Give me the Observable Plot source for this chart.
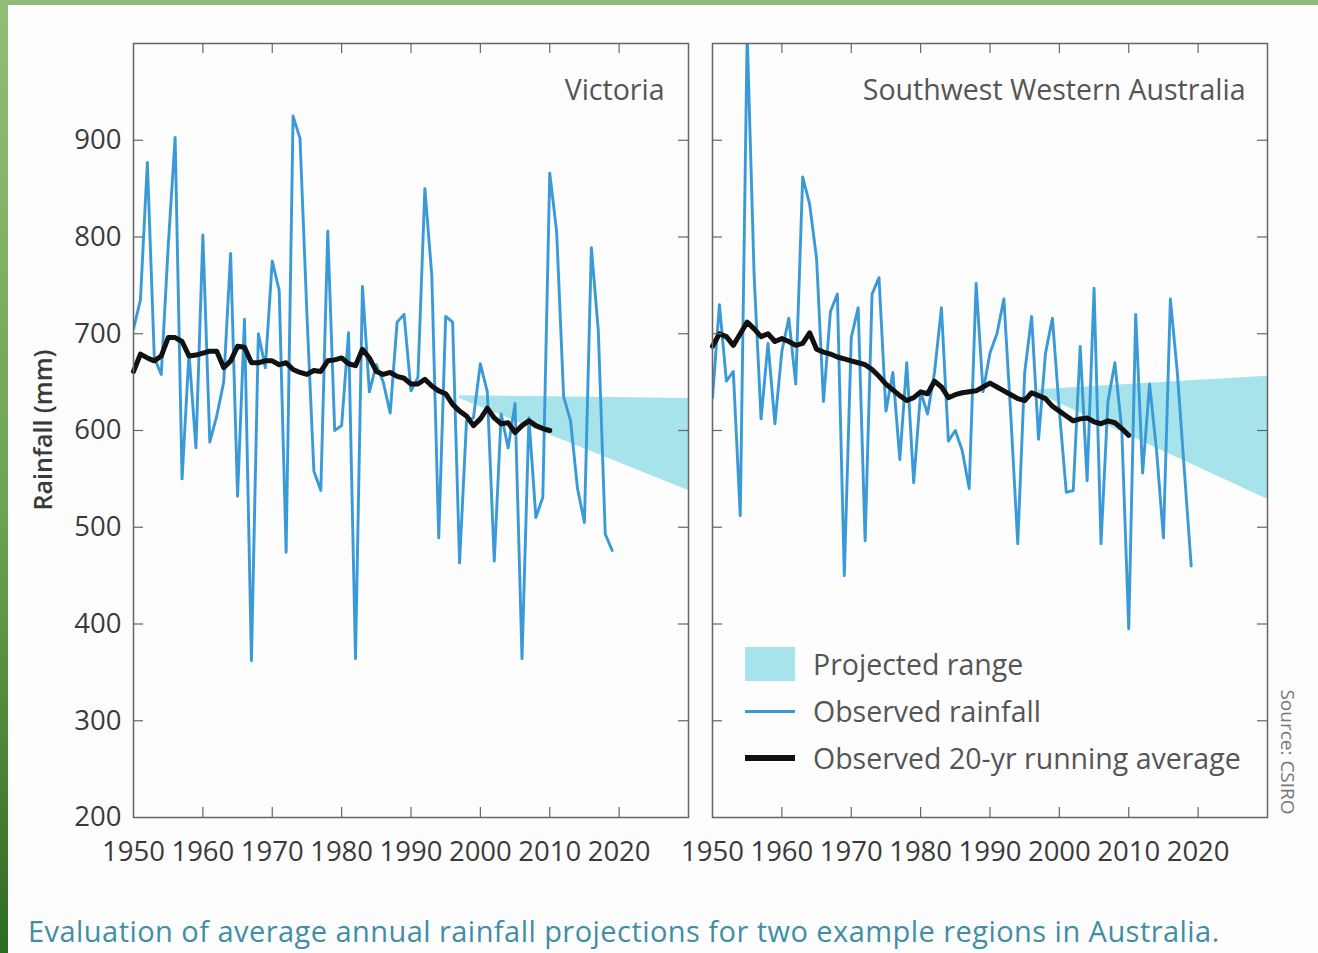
<!DOCTYPE html>
<html>
<head>
<meta charset="utf-8">
<script src="https://cdn.jsdelivr.net/npm/d3@7"></script>
<script src="https://cdn.jsdelivr.net/npm/@observablehq/plot@0.6"></script>
<style>
html, body { margin: 0; padding: 0; background: #fdfdfd; }
#wrap { position: relative; width: 1318px; height: 953px; overflow: hidden; background: #fdfdfd; font-family: "Open Sans", sans-serif; }
#topbar { position: absolute; left: 0; top: 0; width: 1318px; height: 5px; background: #8fbb74; }
#leftbar { position: absolute; left: 0; top: 0; width: 8px; height: 953px; background: linear-gradient(#93be78, #6aa34f 55%, #2f6a22); }
.panel { position: absolute; top: 0; }
#ylabel { position: absolute; left: 42px; top: 430px; transform: translate(-50%, -50%) rotate(-90deg); white-space: nowrap; font-size: 25px; font-weight: 600; color: #3a3a3a; }
#source { position: absolute; left: 1288px; top: 752px; transform: translate(-50%, -50%) rotate(90deg); white-space: nowrap; font-size: 19px; color: #777; }
#caption { position: absolute; left: 28px; top: 911px; white-space: nowrap; font-size: 29px; letter-spacing: 0.45px; color: #3f8ea6; }
.leg { position: absolute; left: 745px; font-size: 28.5px; color: #555; white-space: nowrap; }
.leg .sw { position: absolute; left: 0; width: 50px; }
.leg span { position: absolute; left: 68px; top: 0; transform: translateY(-50%); }
</style>
</head>
<body>
<div id="wrap">
  <div id="p1" class="panel" style="left:0px"></div>
  <div id="p2" class="panel" style="left:700px"></div>
  <div id="ylabel">Rainfall (mm)</div>
  <div id="source">Source: CSIRO</div>
  <div id="legend"></div>
  <div id="caption">Evaluation of average annual rainfall projections for two example regions in Australia.</div>
  <div id="topbar"></div>
  <div id="leftbar"></div>
</div>
<script>
// ---------- data ----------
const obsYears = d3.range(1950, 2020);
const avgYears = d3.range(1950, 2011);

const vicObserved = [705, 735, 877, 675, 658, 790, 903, 550, 680, 582,
  802, 588, 615, 650, 783, 532, 715, 362, 700, 665,
  775, 745, 474, 925, 902, 720, 558, 538, 806, 600,
  605, 701, 364, 749, 640, 668, 650, 618, 712, 720,
  641, 655, 850, 760, 489, 718, 712, 463, 610, 613,
  669, 640, 465, 617, 582, 628, 364, 613, 510, 531,
  866, 805, 635, 610, 540, 505, 789, 703, 493, 476];

const vicAverage = [661, 679, 675, 672, 677, 696, 696, 692, 677, 678,
  680, 682, 682, 665, 672, 687, 686, 670, 670, 672,
  672, 668, 670, 663, 660, 658, 662, 661, 672, 673,
  675, 669, 667, 684, 675, 661, 658, 660, 656, 654,
  648, 648, 653, 646, 641, 638, 627, 620, 615, 605,
  612, 623, 613, 607, 608, 598, 605, 610, 605, 602, 600];

const swwaObserved = [634, 730, 651, 661, 512, 1010, 760, 612, 690, 607,
  682, 716, 648, 862, 834, 778, 630, 723, 741, 450,
  696, 727, 486, 741, 758, 620, 660, 570, 670, 546,
  640, 617, 660, 727, 589, 600, 579, 540, 752, 640,
  680, 700, 736, 615, 483, 660, 718, 591, 680, 716,
  620, 536, 538, 687, 548, 747, 483, 630, 670, 600,
  395, 720, 556, 648, 580, 489, 736, 660, 560, 460];

const swwaAverage = [687, 700, 697, 688, 700, 712, 705, 697, 700, 692,
  695, 692, 688, 690, 701, 684, 681, 679, 676, 674,
  672, 670, 668, 663, 656, 648, 642, 636, 631, 634,
  640, 638, 651, 645, 634, 637, 639, 640, 641, 645,
  649, 645, 641, 637, 633, 631, 639, 636, 633, 625,
  620, 615, 610, 612, 613, 609, 607, 610, 608, 602, 595];

const vicProjYears = [1997, 2030];
const vicProjLow = [633, 538];
const vicProjHigh = [636, 633];
const swwaProjYears = [1997, 2030];
const swwaProjLow = [638, 529];
const swwaProjHigh = [642, 656];

const xTickLabels = [1950, 1960, 1970, 1980, 1990, 2000, 2010, 2020];
const xInnerTicks = [1960, 1970, 1980, 1990, 2000, 2010, 2020];
const yTickLabels = [200, 300, 400, 500, 600, 700, 800, 900];
const yInnerTicks = [300, 400, 500, 600, 700, 800, 900];
const regionNames = ["Victoria", "Southwest Western Australia"];
const legendLabels = ["Projected range", "Observed rainfall", "Observed 20-yr running average"];

const BLUE = "#3a9ad8", CYAN = "#a6e3ea", FRAME = "#666";

function panel({observed, average, projYears, projLow, projHigh, name, width, marginLeft, marginRight, showYLabels, labelDx}) {
  const obs = obsYears.map((year, i) => ({year, value: observed[i]}));
  const avg = avgYears.map((year, i) => ({year, value: average[i]}));
  const proj = projYears.map((year, i) => ({year, lo: projLow[i], hi: projHigh[i]}));
  const marks = [
    Plot.areaY(proj, {x: "year", y1: "lo", y2: "hi", fill: CYAN}),
    Plot.lineY(obs, {x: "year", y: "value", stroke: BLUE, strokeWidth: 2.9, clip: true, strokeLinejoin: "round"}),
    Plot.lineY(avg, {x: "year", y: "value", stroke: "#111", strokeWidth: 5, strokeLinejoin: "round"}),
    Plot.frame({stroke: FRAME, strokeWidth: 1.5}),
    Plot.tickY(yInnerTicks, {y: d => d, insetRight: 545, stroke: FRAME, strokeWidth: 1.2}),
    Plot.tickY(yInnerTicks, {y: d => d, insetLeft: 545, stroke: FRAME, strokeWidth: 1.2}),
    Plot.tickX(xInnerTicks, {x: d => d, insetBottom: 764, stroke: FRAME, strokeWidth: 1.2}),
    Plot.tickX(xInnerTicks, {x: d => d, insetTop: 764, stroke: FRAME, strokeWidth: 1.2}),
    Plot.axisX(xTickLabels, {anchor: "bottom", tickSize: 0, tickPadding: 24, tickFormat: d => `${d}`, label: null, fill: "#3a3a3a"}),
    Plot.text([name], {text: d => d, frameAnchor: "top-right", dx: labelDx, dy: 47, textAnchor: "end", lineAnchor: "middle", fontSize: 28.5, fill: "#555"})
  ];
  if (showYLabels) {
    marks.push(Plot.axisY(yTickLabels, {anchor: "left", tickSize: 0, tickPadding: 12, label: null, fill: "#3a3a3a"}));
  }
  return Plot.plot({
    width, height: 880,
    marginLeft, marginRight, marginTop: 43, marginBottom: 63,
    x: {domain: [1950, 2030], label: null},
    y: showYLabels ? {domain: [200, 1000], label: null} : {domain: [200, 1000], label: null, axis: null},
    style: {background: "transparent", fontFamily: "'Open Sans', sans-serif", fontSize: "27.5px", overflow: "visible"},
    marks
  });
}

document.getElementById("p1").appendChild(panel({
  observed: vicObserved, average: vicAverage,
  projYears: vicProjYears, projLow: vicProjLow, projHigh: vicProjHigh,
  name: regionNames[0], width: 700, marginLeft: 133, marginRight: 12, showYLabels: true, labelDx: -24
}));
document.getElementById("p2").appendChild(panel({
  observed: swwaObserved, average: swwaAverage,
  projYears: swwaProjYears, projLow: swwaProjLow, projHigh: swwaProjHigh,
  name: regionNames[1], width: 618, marginLeft: 12, marginRight: 51, showYLabels: false, labelDx: -22
}));

// legend
const legend = document.getElementById("legend");
const legendRows = [
  {top: 664, sw: `top:-17px;height:34px;background:${CYAN};`},
  {top: 711, sw: `top:-1.5px;height:3px;background:${BLUE};`},
  {top: 758, sw: `top:-3px;height:6px;background:#111;`}
];
legendRows.forEach((r, i) => {
  const row = document.createElement("div");
  row.className = "leg";
  row.style.top = r.top + "px";
  row.innerHTML = `<div class="sw" style="${r.sw}"></div><span>${legendLabels[i]}</span>`;
  legend.appendChild(row);
});
</script>
</body>
</html>
